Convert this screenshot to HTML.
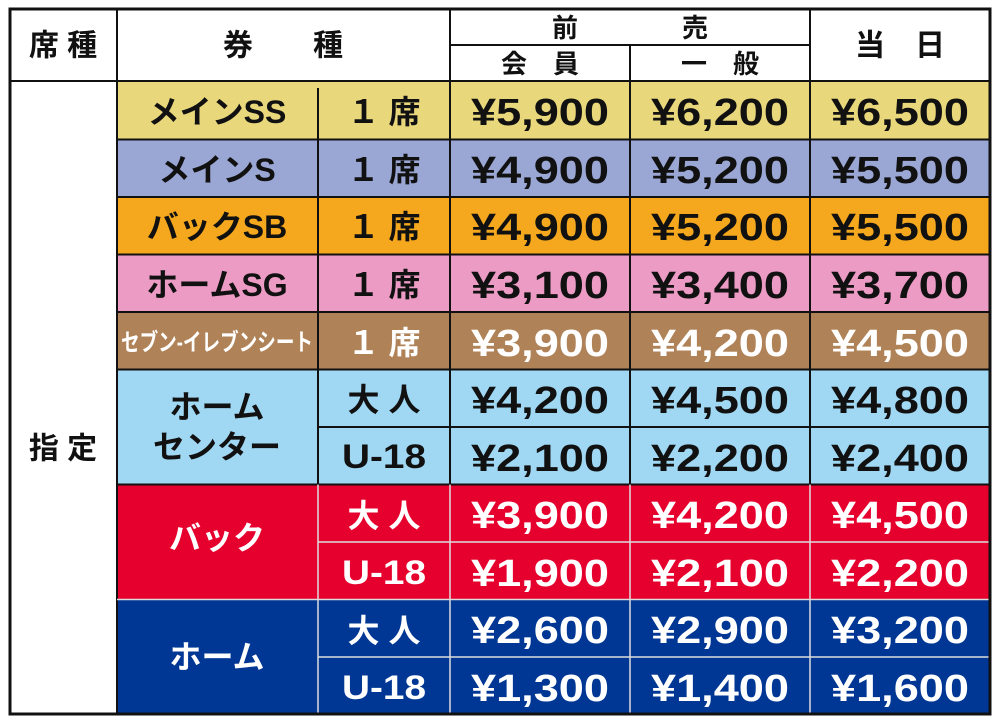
<!DOCTYPE html>
<html><head><meta charset="utf-8"><style>
html,body{margin:0;padding:0;background:#fff;width:1000px;height:725px;overflow:hidden}
svg text{font-family:"Liberation Sans","Noto Sans CJK JP",sans-serif;font-weight:bold}
</style></head><body>
<svg width="1000" height="725" viewBox="0 0 1000 725" xmlns="http://www.w3.org/2000/svg">
<rect x="0" y="0" width="1000" height="725" fill="#fff"/>
<g>
<rect x="117" y="82" width="873" height="57.5" fill="#e8d77b"/>
<rect x="117" y="139.5" width="873" height="57.5" fill="#9aa6d4"/>
<rect x="117" y="197" width="873" height="57.5" fill="#f5a81e"/>
<rect x="117" y="254.5" width="873" height="57.5" fill="#ec9cc4"/>
<rect x="117" y="312" width="873" height="57.5" fill="#b08257"/>
<rect x="117" y="369.5" width="873" height="115" fill="#a0d7f2"/>
<rect x="117" y="484.5" width="873" height="115" fill="#e6002d"/>
<rect x="117" y="599.5" width="873" height="115" fill="#003794"/>
</g>
<g stroke="#111" stroke-width="2" fill="none">
<line x1="117" y1="9" x2="117" y2="714"/>
<line x1="450" y1="9" x2="450" y2="484.5"/>
<line x1="810" y1="9" x2="810" y2="484.5"/>
<line x1="630" y1="45" x2="630" y2="484.5"/>
<line x1="450" y1="45" x2="810" y2="45"/>
<line x1="10" y1="81" x2="990" y2="81"/>
<line x1="318" y1="88" x2="318" y2="484.5"/>
<line x1="117" y1="139.5" x2="990" y2="139.5"/>
<line x1="117" y1="197" x2="990" y2="197"/>
<line x1="117" y1="254.5" x2="990" y2="254.5"/>
<line x1="117" y1="312" x2="990" y2="312"/>
<line x1="117" y1="369.5" x2="990" y2="369.5"/>
<line x1="318" y1="427" x2="990" y2="427"/>
<line x1="117" y1="484.5" x2="990" y2="484.5"/>
</g>
<g stroke="#ddd" stroke-width="1.5" fill="none">
<line x1="318" y1="484.5" x2="318" y2="714"/>
<line x1="450" y1="484.5" x2="450" y2="714"/>
<line x1="630" y1="484.5" x2="630" y2="714"/>
<line x1="810" y1="484.5" x2="810" y2="714"/>
<line x1="318" y1="542" x2="990" y2="542"/>
<line x1="117" y1="599.5" x2="990" y2="599.5"/>
<line x1="318" y1="657" x2="990" y2="657"/>
</g>
<rect x="10" y="9" width="980" height="705" fill="none" stroke="#111" stroke-width="3"/>
<g font-size="30" fill="#111" text-anchor="middle" dominant-baseline="central">
<text x="63" y="46">席 種</text>
<text x="283" y="46">券　　種</text>
<text x="630" y="28" font-size="26">前　　　　売</text>
<text x="540" y="64" font-size="26">会　員</text>
<text x="720" y="64" font-size="26">一　般</text>
<text x="900" y="46">当　日</text>
<text x="63" y="449">指 定</text>
</g>
<g font-size="32" fill="#111" text-anchor="middle" dominant-baseline="central">
<text x="217" y="112">メインSS</text>
<text x="384" y="112">１ 席</text>
<text x="217" y="170">メインS</text>
<text x="384" y="170">１ 席</text>
<text x="217" y="227">バックSB</text>
<text x="384" y="227">１ 席</text>
<text x="217" y="285">ホームSG</text>
<text x="384" y="285">１ 席</text>
<text x="217" y="343" fill="#fff" font-size="24" textLength="192" lengthAdjust="spacingAndGlyphs">セブン-イレブンシート</text>
<text x="384" y="343" fill="#fff">１ 席</text>
<text x="217" y="407">ホーム</text>
<text x="217" y="447">センター</text>
<text x="384" y="400">大 人</text>
<text x="384" y="457" font-size="34" textLength="84" lengthAdjust="spacingAndGlyphs">U-18</text>
<text x="217" y="538" fill="#fff">バック</text>
<text x="384" y="516" fill="#fff">大 人</text>
<text x="384" y="573" fill="#fff" font-size="34" textLength="84" lengthAdjust="spacingAndGlyphs">U-18</text>
<text x="217" y="657" fill="#fff">ホーム</text>
<text x="384" y="631" fill="#fff">大 人</text>
<text x="384" y="688" fill="#fff" font-size="34" textLength="84" lengthAdjust="spacingAndGlyphs">U-18</text>
</g>
<g font-size="38" text-anchor="middle" dominant-baseline="central" fill="#111">
<g>
<text x="540" y="113" textLength="138" lengthAdjust="spacingAndGlyphs">¥5,900</text><text x="720" y="113" textLength="138" lengthAdjust="spacingAndGlyphs">¥6,200</text><text x="900" y="113" textLength="138" lengthAdjust="spacingAndGlyphs">¥6,500</text>
<text x="540" y="171" textLength="138" lengthAdjust="spacingAndGlyphs">¥4,900</text><text x="720" y="171" textLength="138" lengthAdjust="spacingAndGlyphs">¥5,200</text><text x="900" y="171" textLength="138" lengthAdjust="spacingAndGlyphs">¥5,500</text>
<text x="540" y="228" textLength="138" lengthAdjust="spacingAndGlyphs">¥4,900</text><text x="720" y="228" textLength="138" lengthAdjust="spacingAndGlyphs">¥5,200</text><text x="900" y="228" textLength="138" lengthAdjust="spacingAndGlyphs">¥5,500</text>
<text x="540" y="286" textLength="138" lengthAdjust="spacingAndGlyphs">¥3,100</text><text x="720" y="286" textLength="138" lengthAdjust="spacingAndGlyphs">¥3,400</text><text x="900" y="286" textLength="138" lengthAdjust="spacingAndGlyphs">¥3,700</text>
</g>
<g fill="#fff"><text x="540" y="344" textLength="138" lengthAdjust="spacingAndGlyphs">¥3,900</text><text x="720" y="344" textLength="138" lengthAdjust="spacingAndGlyphs">¥4,200</text><text x="900" y="344" textLength="138" lengthAdjust="spacingAndGlyphs">¥4,500</text></g>
<text x="540" y="401" textLength="138" lengthAdjust="spacingAndGlyphs">¥4,200</text><text x="720" y="401" textLength="138" lengthAdjust="spacingAndGlyphs">¥4,500</text><text x="900" y="401" textLength="138" lengthAdjust="spacingAndGlyphs">¥4,800</text>
<text x="540" y="459" textLength="138" lengthAdjust="spacingAndGlyphs">¥2,100</text><text x="720" y="459" textLength="138" lengthAdjust="spacingAndGlyphs">¥2,200</text><text x="900" y="459" textLength="138" lengthAdjust="spacingAndGlyphs">¥2,400</text>
<g fill="#fff">
<text x="540" y="516" textLength="138" lengthAdjust="spacingAndGlyphs">¥3,900</text><text x="720" y="516" textLength="138" lengthAdjust="spacingAndGlyphs">¥4,200</text><text x="900" y="516" textLength="138" lengthAdjust="spacingAndGlyphs">¥4,500</text>
<text x="540" y="574" textLength="138" lengthAdjust="spacingAndGlyphs">¥1,900</text><text x="720" y="574" textLength="138" lengthAdjust="spacingAndGlyphs">¥2,100</text><text x="900" y="574" textLength="138" lengthAdjust="spacingAndGlyphs">¥2,200</text>
<text x="540" y="631" textLength="138" lengthAdjust="spacingAndGlyphs">¥2,600</text><text x="720" y="631" textLength="138" lengthAdjust="spacingAndGlyphs">¥2,900</text><text x="900" y="631" textLength="138" lengthAdjust="spacingAndGlyphs">¥3,200</text>
<text x="540" y="689" textLength="138" lengthAdjust="spacingAndGlyphs">¥1,300</text><text x="720" y="689" textLength="138" lengthAdjust="spacingAndGlyphs">¥1,400</text><text x="900" y="689" textLength="138" lengthAdjust="spacingAndGlyphs">¥1,600</text>
</g>
</g>
</svg>
</body></html>
